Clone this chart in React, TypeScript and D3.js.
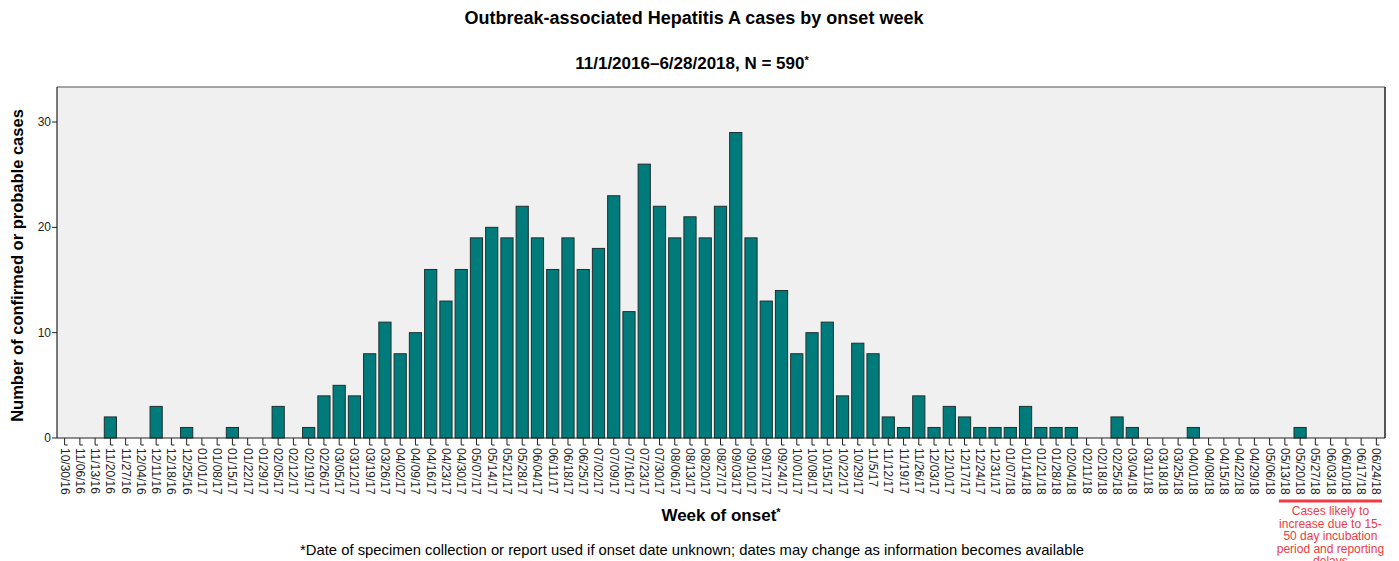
import React from "react";
import { scaleBand, scaleLinear } from "d3";

const weeks = [
  "10/30/16", "11/06/16", "11/13/16", "11/20/16", "11/27/16", "12/04/16", "12/11/16", "12/18/16", "12/25/16",
  "01/01/17", "01/08/17", "01/15/17", "01/22/17", "01/29/17", "02/05/17", "02/12/17", "02/19/17", "02/26/17",
  "03/05/17", "03/12/17", "03/19/17", "03/26/17", "04/02/17", "04/09/17", "04/16/17", "04/23/17", "04/30/17",
  "05/07/17", "05/14/17", "05/21/17", "05/28/17", "06/04/17", "06/11/17", "06/18/17", "06/25/17", "07/02/17",
  "07/09/17", "07/16/17", "07/23/17", "07/30/17", "08/06/17", "08/13/17", "08/20/17", "08/27/17", "09/03/17",
  "09/10/17", "09/17/17", "09/24/17", "10/01/17", "10/08/17", "10/15/17", "10/22/17", "10/29/17", "11/5/17",
  "11/12/17", "11/19/17", "11/26/17", "12/03/17", "12/10/17", "12/17/17", "12/24/17", "12/31/17", "01/07/18",
  "01/14/18", "01/21/18", "01/28/18", "02/04/18", "02/11/18", "02/18/18", "02/25/18", "03/04/18", "03/11/18",
  "03/18/18", "03/25/18", "04/01/18", "04/08/18", "04/15/18", "04/22/18", "04/29/18", "05/06/18", "05/13/18",
  "05/20/18", "05/27/18", "06/03/18", "06/10/18", "06/17/18", "06/24/18",
];

const cases = [
  0, 0, 0, 2, 0, 0, 3, 0, 1,
  0, 0, 1, 0, 0, 3, 0, 1, 4,
  5, 4, 8, 11, 8, 10, 16, 13, 16,
  19, 20, 19, 22, 19, 16, 19, 16, 18,
  23, 12, 26, 22, 19, 21, 19, 22, 29,
  19, 13, 14, 8, 10, 11, 4, 9, 8,
  2, 1, 4, 1, 3, 2, 1, 1, 1,
  3, 1, 1, 1, 0, 0, 2, 1, 0,
  0, 0, 1, 0, 0, 0, 0, 0, 0,
  1, 0, 0, 0, 0, 0,
];

const yTicks = [0, 10, 20, 30];

const delayNote = ["Cases likely to", "increase due to 15-", "50 day incubation", "period and reporting", "delays"];

const narrow = "'Liberation Sans Narrow', Arial, sans-serif";

export default function App() {
  const width = 1399;
  const height = 561;
  const left = 57;
  const right = 1385;
  const top = 87;
  const bottom = 438;

  const x = scaleBand<string>().domain(weeks).range([left, right - 1]).paddingInner(0.2).paddingOuter(0.1);
  const y = scaleLinear().domain([0, 30]).range([bottom, 122]);
  const cx = (w: string) => (x(w) ?? 0) + x.bandwidth() / 2;

  // red bar under the last weeks (reporting delay)
  const noteFrom = cx("05/13/18") - 6;
  const noteTo = right - 3;
  const noteMid = (noteFrom + noteTo) / 2;

  return (
    <svg
      width={width}
      height={height}
      style={{ position: "absolute", left: 0, top: 0, fontFamily: "Arial, 'Liberation Sans', sans-serif" }}
    >
      <rect width={width} height={height} fill="#ffffff" />
      <text x={694} y={24} textAnchor="middle" fontSize="18px" fontWeight="bold" fill="#000">
        Outbreak-associated Hepatitis A cases by onset week
      </text>
      <text x={692} y={69} textAnchor="middle" fontSize="17px" fontWeight="bold" fill="#000">
        11/1/2016–6/28/2018, N = 590<tspan fontSize="11px" dy={-5}>*</tspan>
      </text>

      {/* plot frame */}
      <rect x={left} y={top} width={right - left} height={bottom - top} fill="#f0f0f0" stroke="none" />
      <line x1={left} y1={top} x2={right} y2={top} stroke="#888" strokeWidth={1.5} />
      <line x1={right} y1={top} x2={right} y2={bottom} stroke="#222" strokeWidth={1.5} />

      {/* bars */}
      {weeks.map((w, i) =>
        cases[i] > 0 ? (
          <rect
            key={w}
            x={x(w)}
            y={y(cases[i])}
            width={x.bandwidth()}
            height={bottom - y(cases[i])}
            fill="#007b7b"
            stroke="#1f2f2f"
            strokeWidth={1}
          />
        ) : null
      )}

      {/* axes */}
      <line x1={left} y1={top} x2={left} y2={bottom} stroke="#222" strokeWidth={1.2} />
      <line x1={left} y1={bottom} x2={right} y2={bottom} stroke="#222" strokeWidth={1.2} />

      {yTicks.map((t) => (
        <g key={t}>
          <line x1={left - 5} x2={left} y1={y(t)} y2={y(t)} stroke="#222" />
          <text x={left - 6} y={y(t) + 4} textAnchor="end" fontSize="12px" fill="#222">
            {t}
          </text>
        </g>
      ))}

      {weeks.map((w) => {
        const px = cx(w);
        return (
          <g key={w}>
            <line x1={px} x2={px} y1={bottom} y2={bottom + 7} stroke="#222" />
            <line x1={px} x2={px + 3} y1={bottom + 7} y2={bottom + 7} stroke="#222" />
            <text
              transform={`translate(${px - 4}, ${bottom + 10}) rotate(90)`}
              fontSize="12px"
              fill="#222"
            >
              {w}
            </text>
          </g>
        );
      })}

      <text
        transform={`translate(23, ${(top + bottom) / 2 + 3}) rotate(-90)`}
        textAnchor="middle"
        fontSize="16.5px"
        fontWeight="bold"
        fill="#000"
      >
        Number of confirmed or probable cases
      </text>

      <text x={721} y={521} textAnchor="middle" fontSize="17px" fontWeight="bold" fill="#000"
        style={{ fontFamily: narrow }}>
        Week of onset<tspan fontSize="11px" dy={-5}>*</tspan>
      </text>
      <text x={692} y={555} textAnchor="middle" fontSize="14.8px" fill="#000"
        style={{ fontFamily: narrow }}>
        *Date of specimen collection or report used if onset date unknown; dates may change as information becomes available
      </text>

      {/* reporting delay note */}
      <line x1={noteFrom} x2={noteTo} y1={501} y2={501} stroke="#ee3b44" strokeWidth={3} />
      {delayNote.map((s, i) => (
        <text key={s} x={noteMid} y={515 + i * 12.6} textAnchor="middle" fontSize="12px" fill="#ee3b44">
          {s}
        </text>
      ))}
    </svg>
  );
}
